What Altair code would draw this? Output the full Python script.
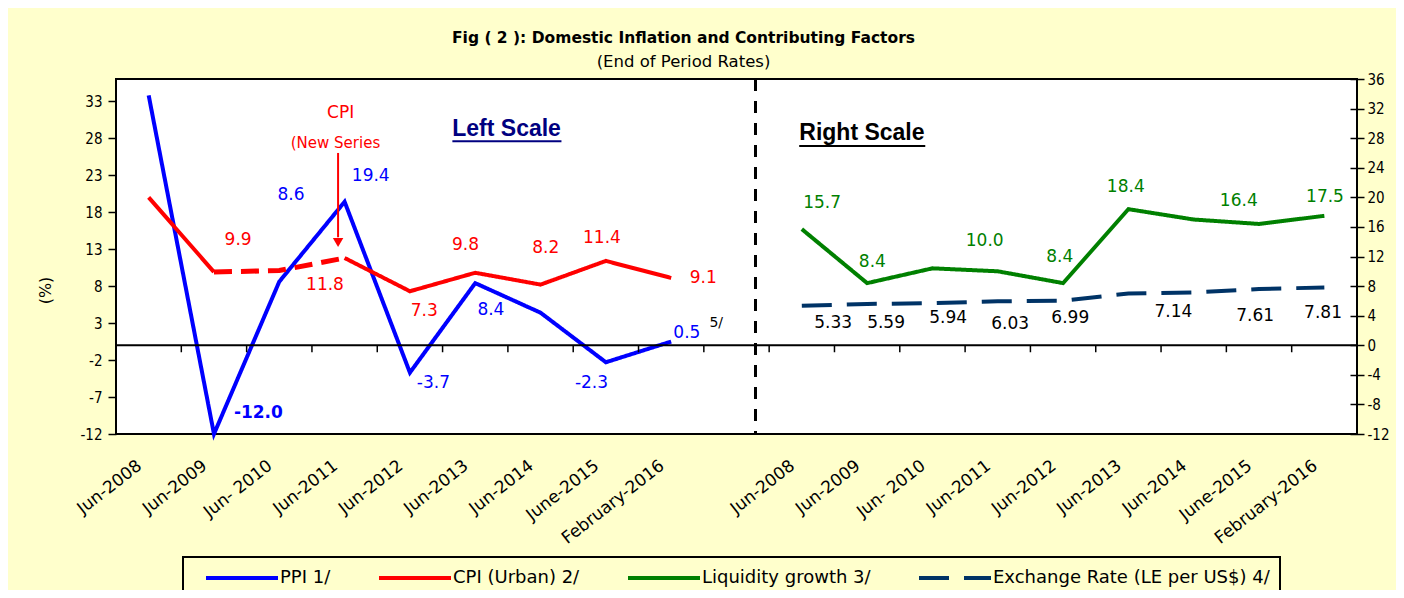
import altair as alt
import pandas as pd

# ---------------- data ----------------
categories = ["Jun-2008", "Jun-2009", "Jun- 2010", "Jun-2011", "Jun-2012",
              "Jun-2013", "Jun-2014", "June-2015", "February-2016"]

ppi = [33.8, -12.0, 8.6, 19.4, -3.7, 8.4, 4.4, -2.3, 0.5]
cpi = [20.0, 9.9, 10.1, 11.8, 7.3, 9.8, 8.2, 11.4, 9.1]
cpi_break = [1, 2, 3]          # periods joined by the dashed (series change) segment
liquidity = [15.7, 8.4, 10.4, 10.0, 8.4, 18.4, 17.0, 16.4, 17.5]
exchange = [5.33, 5.59, 5.69, 5.94, 6.03, 6.99, 7.14, 7.61, 7.81]

series_names = ["PPI 1/", "CPI (Urban) 2/", "Liquidity growth 3/",
                "Exchange Rate (LE per US$) 4/"]
series_colors = ["#0000FF", "#FF0000", "#008000", "#003366"]

# data labels: text, slot (category position), value position
ppi_lab_t = ["8.6", "19.4", "-3.7", "8.4", "-2.3", "0.5"]
ppi_lab_x = [2.18, 3.40, 4.36, 5.24, 6.78, 8.24]
ppi_lab_y = [20.3, 22.9, -5.1, 4.8, -5.1, 1.7]
ppi_min_t = ["-12.0"]
ppi_min_x = [1.68]
ppi_min_y = [-9.2]

cpi_lab_t = ["9.9", "11.8", "7.3", "9.8", "8.2", "11.4", "9.1"]
cpi_lab_x = [1.37, 2.70, 4.22, 4.85, 6.08, 6.94, 8.49]
cpi_lab_y = [14.2, 8.15, 4.6, 13.55, 13.15, 14.5, 9.1]

liq_lab_t = ["15.7", "8.4", "10.0", "8.4", "18.4", "16.4", "17.5"]
liq_lab_x = [10.31, 11.08, 12.80, 13.95, 14.96, 16.69, 18.01]
liq_lab_y = [19.2, 11.3, 14.1, 11.9, 21.4, 19.5, 20.0]

ex_lab_t = ["5.33", "5.59", "5.94", "6.03", "6.99", "7.14", "7.61", "7.81"]
ex_lab_x = [10.48, 11.29, 12.24, 13.19, 14.11, 15.69, 16.94, 17.98]
ex_lab_y = [3.0, 3.0, 3.7, 2.9, 3.7, 4.5, 3.95, 4.35]

note_t = ["5/"]
note_x = [8.69]
note_y = [3.0]

# ---------------- tables ----------------
GAP = len(categories)            # empty slot between the two panels
n_slots = 2 * len(categories) + 1
Y_MIN, Y_MAX = -12, 36

rows = []
for i, v in enumerate(ppi):
    rows.append({"series": series_names[0], "x": i, "y": v, "seg": "a"})
for i, v in enumerate(cpi):
    if i <= cpi_break[0]:
        rows.append({"series": series_names[1], "x": i, "y": v, "seg": "a"})
    if i >= cpi_break[-1]:
        rows.append({"series": series_names[1], "x": i, "y": v, "seg": "b"})
for i, v in enumerate(liquidity):
    rows.append({"series": series_names[2], "x": GAP + 1 + i, "y": v, "seg": "a"})
for i, v in enumerate(exchange):
    rows.append({"series": series_names[3], "x": GAP + 1 + i, "y": v, "seg": "a"})
line_df = pd.DataFrame(rows)

cpi_dash_df = pd.DataFrame({"x": cpi_break, "y": [cpi[i] for i in cpi_break]})

# category labels of both panels (the gap slot has none)
cat_df = pd.DataFrame({
    "t": categories + categories,
    "x": list(range(len(categories))) + [GAP + 1 + i for i in range(len(categories))],
    "y": Y_MIN,
})

FONT_N = "Liberation Sans Narrow, Arial Narrow, DejaVu Sans Condensed, sans-serif"
FONT_L = "DejaVu Sans, Verdana, sans-serif"
FONT_A = "Liberation Sans, Arial, sans-serif"

xscale = alt.Scale(domain=[-0.5, n_slots - 0.5], nice=False, zero=False)
yscale = alt.Scale(domain=[Y_MIN, Y_MAX], nice=False, zero=False)


def X(f="x"):
    return alt.X(f"{f}:Q", scale=xscale, axis=None)


def Y(f="y"):
    return alt.Y(f"{f}:Q", scale=yscale, axis=None)


left_axis = alt.Axis(values=list(range(-12, 34, 5)), title="(%)", orient="left",
                     labelExpr="datum.value + ''",
                     domain=False, grid=False, tickSize=8, tickColor="black",
                     tickWidth=1.5, labelPadding=6, labelFont=FONT_N,
                     labelFontSize=15, labelColor="black", titleFont=FONT_L,
                     titleFontSize=16, titleFontWeight="normal", titleColor="black",
                     titleX=-71, titleY=211, titleAngle=270, titleAlign="center",
                     titleBaseline="middle")

right_axis = alt.Axis(values=list(range(-12, 37, 4)), title=None, orient="right",
                      labelExpr="datum.value + ''",
                      domain=False, grid=False, tickSize=14, offset=-7,
                      tickColor="black", tickWidth=1.5, labelPadding=3,
                      labelFont=FONT_N, labelFontSize=15, labelColor="black")

legend = alt.Legend(title=None, orient="none", legendX=67, legendY=478,
                    direction="horizontal", symbolType="M-4,0H4", symbolSize=324,
                    symbolStrokeWidth=4, symbolOffset=38, labelOffset=27,
                    labelFont=FONT_L, labelFontSize=18, labelColor="black",
                    columnPadding=35, strokeColor="black", fillColor="#FFFFCC",
                    padding=10, labelLimit=400)

# ---------------- layers ----------------
lines = alt.Chart(line_df).mark_line(strokeWidth=4).encode(
    x=X(),
    y=alt.Y("y:Q", scale=yscale, axis=left_axis),
    color=alt.Color("series:N", scale=alt.Scale(domain=series_names, range=series_colors),
                    legend=legend),
    strokeDash=alt.StrokeDash("series:N",
                              scale=alt.Scale(domain=series_names,
                                              range=[[1, 0], [1, 0], [1, 0], [30, 15]]),
                              legend=legend),
    detail="seg:N",
)

cpi_dash = alt.Chart(cpi_dash_df).mark_line(strokeWidth=5, color="#FF0000",
                                            strokeDash=[18, 9]).encode(x=X(), y=Y())

zero_df = pd.DataFrame({"y": [0]})
zero = alt.Chart(zero_df).mark_rule(color="black", strokeWidth=2).encode(
    y=alt.Y("y:Q", scale=yscale, axis=right_axis))

tick_df = pd.DataFrame({"x": [k + 0.5 for k in range(n_slots - 1)], "y": 0})
ticks = alt.Chart(tick_df).mark_rule(color="black", strokeWidth=1.5, y2Offset=7).encode(
    x=X(), y=Y(), y2="y:Q")

sep = alt.Chart(pd.DataFrame({"x": [GAP]})).mark_rule(
    color="black", strokeWidth=3, strokeDash=[12, 10], xOffset=19).encode(x=X())

cat_labels = alt.Chart(cat_df).mark_text(
    angle=322, align="right", baseline="middle", font=FONT_L, fontSize=17,
    color="black", xOffset=-9, yOffset=30).encode(x=X(), y=Y(), text="t:N")


def texts(t, xs, ys, color, size=17, weight="normal", font=FONT_L):
    df = pd.DataFrame({"t": t, "x": xs, "y": ys})
    return alt.Chart(df).mark_text(color=color, fontSize=size, fontWeight=weight,
                                   font=font).encode(x=X(), y=Y(), text="t:N")


lab_ppi = texts(ppi_lab_t, ppi_lab_x, ppi_lab_y, "#0000FF")
lab_ppi_min = texts(ppi_min_t, ppi_min_x, ppi_min_y, "#0000FF", weight="bold")
lab_cpi = texts(cpi_lab_t, cpi_lab_x, cpi_lab_y, "#FF0000")
lab_liq = texts(liq_lab_t, liq_lab_x, liq_lab_y, "#008000")
lab_ex = texts(ex_lab_t, ex_lab_x, ex_lab_y, "black")
lab_note = texts(note_t, note_x, note_y, "black", size=14)

# CPI (New Series) annotation with arrow
cpi_note1 = texts(["CPI"], [2.94], [31.4], "#FF0000", size=17)
cpi_note2 = texts(["(New  Series"], [2.86], [27.35], "#FF0000", size=15)
arrow_df = pd.DataFrame({"x": [2.9], "y": [26.0], "y2": [14.6], "tip": [13.9]})
arrow_line = alt.Chart(arrow_df).mark_rule(color="#FF0000", strokeWidth=2).encode(
    x=X(), y=Y(), y2="y2:Q")
arrow_head = alt.Chart(arrow_df).mark_point(shape="triangle-down", filled=True,
                                            color="#FF0000", size=110, opacity=1).encode(
    x=X(), y=Y("tip"))

# scale captions
cap_l = texts(["Left Scale"], [5.48], [29.24], "#000080", size=23, weight="bold", font=FONT_A)
cap_r = texts(["Right Scale"], [10.92], [28.7], "black", size=23, weight="bold", font=FONT_A)
ul_df_l = pd.DataFrame({"x": [4.65], "x2": [6.32], "y": [27.6]})
ul_df_r = pd.DataFrame({"x": [9.96], "x2": [11.89], "y": [26.95]})
ul_l = alt.Chart(ul_df_l).mark_rule(color="#000080", strokeWidth=2).encode(
    x=X(), x2="x2:Q", y=Y())
ul_r = alt.Chart(ul_df_r).mark_rule(color="black", strokeWidth=2).encode(
    x=X(), x2="x2:Q", y=Y())

chart = alt.layer(
    lines, zero, ticks, sep, cpi_dash, cat_labels,
    lab_ppi, lab_ppi_min, lab_cpi, lab_liq, lab_ex, lab_note,
    cpi_note1, cpi_note2, arrow_line, arrow_head,
    cap_l, cap_r, ul_l, ul_r,
).resolve_scale(
    y="independent"
).properties(
    width=1241, height=355,
    autosize=alt.AutoSizeParams(type="none"),
    padding={"left": 108, "top": 71, "right": 39, "bottom": 156},
    background="#FFFFCC",
    title=alt.TitleParams(
        text="Fig ( 2 ): Domestic Inflation and Contributing Factors",
        subtitle="(End of Period Rates)",
        font="DejaVu Sans", fontSize=15.5, fontWeight="bold", color="black",
        subtitleFont="DejaVu Sans", subtitleFontSize=16.5, subtitleColor="black",
        anchor="middle", frame="group", dx=-53, offset=2, subtitlePadding=7),
).configure_view(
    stroke="black", strokeWidth=2, fill="white"
).configure_legend(strokeWidth=2)

chart.save("out.html", embed_options={"renderer": "svg", "actions": False})
